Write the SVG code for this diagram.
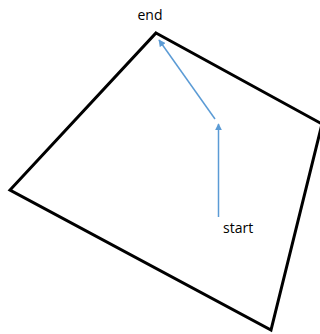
<svg xmlns="http://www.w3.org/2000/svg" width="320" height="334" viewBox="0 0 320 334">
<style>
.edge{fill:none;stroke:#000;stroke-width:3;stroke-linejoin:miter}
.arr{stroke:#5B9BD5;stroke-width:1.5;fill:none}
.lbl{font-family:"Open Sans","Liberation Sans",sans-serif;font-size:14px;fill:#000}
</style>
<defs>
<marker id="ah" viewBox="0 0 10 10" refX="9" refY="5" markerWidth="7" markerHeight="7" orient="auto" markerUnits="userSpaceOnUse">
<path d="M0,0 L10,5 L0,10 z" fill="#5B9BD5"/>
</marker>
</defs>
<g id="shape">
<polygon class="edge" points="156,33 322,124 271,330 10,190"/>
</g>
<g id="labels">
<text class="lbl" x="150" y="20" text-anchor="middle">end</text>
<text class="lbl" x="223" y="233">start</text>
</g>
<g id="connectors">
<line class="arr" x1="218.5" y1="217" x2="218.5" y2="124" marker-end="url(#ah)"/>
<line class="arr" x1="215" y1="119" x2="159" y2="40" marker-end="url(#ah)"/>
</g>
</svg>
